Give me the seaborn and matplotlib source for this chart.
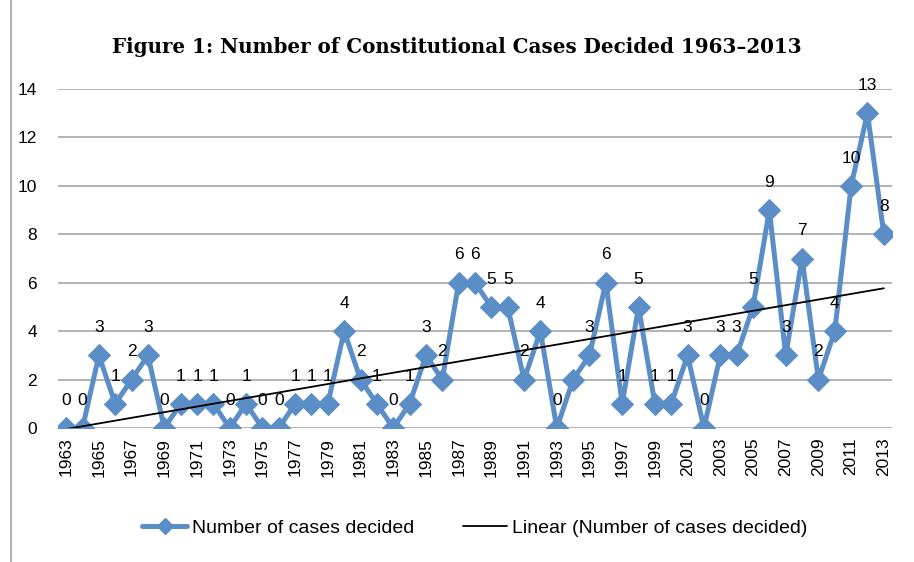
# Number of constitutional cases decided per year, 1963-2013
import numpy as np
import pandas as pd
import seaborn as sns
import matplotlib.pyplot as plt
from matplotlib.lines import Line2D

years = list(range(1963, 2014))
cases = [0, 0, 3, 1, 2, 3, 0, 1, 1, 1,
         0, 1, 0, 0, 1, 1, 1, 4, 2, 1,
         0, 1, 3, 2, 6, 6, 5, 5, 2, 4,
         0, 2, 3, 6, 1, 5, 1, 1, 3, 0,
         3, 3, 5, 9, 3, 7, 2, 4, 10, 13,
         8]
y_ticks = [0, 2, 4, 6, 8, 10, 12, 14]
x_ticks = years[::2]

blue = '#5B8EC7'
grid = '#A6A6A6'

df = pd.DataFrame({'year': years, 'cases': cases})

sns.set_style('white')
plt.rcParams['font.family'] = ['Liberation Sans', 'DejaVu Sans']
plt.rcParams['text.color'] = 'black'
plt.rcParams['xtick.color'] = 'black'
plt.rcParams['ytick.color'] = 'black'

fig = plt.figure(figsize=(9.14, 5.62), dpi=100)
ax = fig.add_axes([58 / 914, 1 - 428 / 562, (892 - 58) / 914, (428 - 89) / 562])

for t in y_ticks:
    ax.axhline(t, color=grid, lw=1.2, zorder=0)

sns.lineplot(data=df, x='year', y='cases', ax=ax, color=blue, lw=3.6,
             marker='D', markersize=11, markeredgecolor=blue, zorder=3)

# linear trend line
sns.regplot(data=df, x='year', y='cases', ax=ax, scatter=False, ci=None,
            truncate=True, line_kws=dict(color='black', lw=1.3, zorder=4))

for yr, v in zip(years, cases):
    if yr == 1994:
        continue
    ax.annotate(str(v), (yr, v), xytext=(0, 20), textcoords='offset points',
                ha='center', va='center', fontsize=12.5, color='black')

ax.set_xlim(1962.5, 2013.5)
ax.set_ylim(0, 14)
ax.set_yticks(y_ticks)
ax.set_xticks(x_ticks)
ax.set_xticklabels([str(x) for x in x_ticks], rotation=90, fontsize=12.5)
ax.tick_params(axis='y', labelsize=12.5, length=0, pad=15)
ax.tick_params(axis='x', length=0, pad=7)
ax.set_xlabel('')
ax.set_ylabel('')
for s in ax.spines.values():
    s.set_visible(False)

fig.text(0.5, 1 - 47 / 562, 'Figure 1: Number of Constitutional Cases Decided 1963\u20132013',
         ha='center', va='center', fontsize=14.3, fontweight='bold',
         family=['DejaVu Serif'], color='black')

handles = [Line2D([], [], color=blue, lw=3.6, marker='D', markersize=8),
           Line2D([], [], color='black', lw=1.3)]
fig.legend(handles, ['Number of cases decided', 'Linear (Number of cases decided)'],
           loc='center', bbox_to_anchor=(475 / 914, 1 - 528 / 562), ncol=2, frameon=False,
           fontsize=14, handlelength=2.3, handletextpad=0.25, columnspacing=2.5)

fig.add_artist(Line2D([11 / 914, 11 / 914], [0, 1], color='#A0A0A0', lw=1.2))

fig.savefig('out.png', dpi=100, facecolor='white')
